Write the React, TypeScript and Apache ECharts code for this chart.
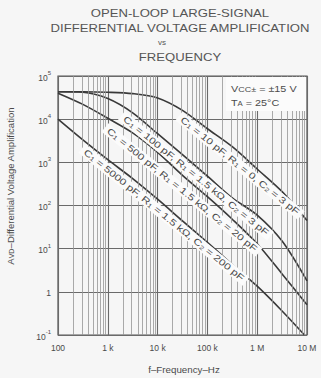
import { useEffect, useRef } from "react";
import * as echarts from "echarts";

// Open-loop gain (V/V) versus frequency (Hz) for each compensation network
const freqC10 = [100, 316, 1000, 3160, 10000, 31600, 100000, 316000, 1000000, 3160000, 10000000];
const gainC10 = [43000, 43000, 42000, 39000, 31000, 16000, 6000, 2300, 700, 210, 45];

const freqC100 = [100, 316, 1000, 3160, 10000, 31600, 100000, 316000, 1000000, 3160000, 10000000];
const gainC100 = [43000, 42000, 30000, 14000, 4600, 1500, 480, 150, 60, 15, 1.8];

const freqC500 = [100, 316, 1000, 3160, 10000, 31600, 100000, 316000, 1000000, 3160000, 10000000];
const gainC500 = [40000, 22000, 10500, 4800, 1700, 500, 160, 48, 13, 2.6, 0.5];

const freqC5000 = [100, 316, 1000, 3160, 10000, 31600, 100000, 316000, 1000000, 3160000, 8900000];
const gainC5000 = [10000, 3300, 1150, 420, 140, 44, 14, 4.3, 1.35, 0.36, 0.1];

const curveNames = ["C1 = 10 pF", "C1 = 100 pF", "C1 = 500 pF", "C1 = 5000 pF"];
const curveLabels = [
  "C{s|1} = 10 pF, R{s|1} = 0, C{s|2} = 3 pF",
  "C{s|1} = 100 pF, R{s|1} = 1.5 kΩ, C{s|2} = 3 pF",
  "C{s|1} = 500 pF, R{s|1} = 1.5 kΩ, C{s|2} = 20 pF",
  "C{s|1} = 5000 pF, R{s|1} = 1.5 kΩ, C{s|2} = 200 pF",
];

// x tick labels for 10^2 .. 10^7 Hz
const xTickLabels = ["100", "1 k", "10 k", "100 k", "1 M", "10 M"];

const titleLines = ["OPEN-LOOP LARGE-SIGNAL", "DIFFERENTIAL VOLTAGE AMPLIFICATION", "vs", "FREQUENCY"];

const BG = "#f6f6f6";
const INK = "#4a4a4a";
const FONT = "Liberation Sans, Arial, sans-serif";

export default function App() {
  const ref = useRef<HTMLDivElement>(null);

  useEffect(() => {
    if (!ref.current) return;
    const chart = echarts.init(ref.current, undefined, { renderer: "svg" });

    const curves = [
      [freqC10, gainC10],
      [freqC100, gainC100],
      [freqC500, gainC500],
      [freqC5000, gainC5000],
    ];

    // Minor vertical grid at 2..9 × each decade
    const minorFreqs: number[] = [];
    for (let d = 2; d < 7; d++) {
      for (let m = 2; m <= 9; m++) minorFreqs.push(m * Math.pow(10, d));
    }

    chart.setOption({
      animation: false,
      backgroundColor: BG,
      grid: {
        left: 58,
        right: 14,
        top: 76,
        bottom: 43,
        show: true,
        borderColor: "#555",
        borderWidth: 1.2,
        backgroundColor: "transparent",
      },
      xAxis: {
        type: "log",
        logBase: 10,
        min: 100,
        max: 10000000,
        axisLine: { show: false },
        axisTick: { show: false },
        splitLine: { show: true, lineStyle: { color: "#6a6a6a", width: 1.1 } },
        axisLabel: {
          color: INK,
          fontFamily: FONT,
          fontSize: 8.5,
          margin: 8,
          formatter: (v: number) => xTickLabels[Math.round(Math.log10(v)) - 2] ?? "",
        },
      },
      yAxis: {
        type: "log",
        logBase: 10,
        min: 0.1,
        max: 100000,
        axisLine: { show: false },
        axisTick: { show: false },
        splitLine: { show: true, lineStyle: { color: "#6a6a6a", width: 1.1 } },
        axisLabel: {
          color: INK,
          fontFamily: FONT,
          margin: 7,
          formatter: (v: number) => {
            const e = Math.round(Math.log10(v));
            return e === 0 ? "{b|1}" : `{b|10}{sup|${e}}`;
          },
          rich: {
            b: { fontSize: 8.5, lineHeight: 12, verticalAlign: "bottom", color: INK, fontFamily: FONT },
            sup: { fontSize: 6, lineHeight: 12, verticalAlign: "top", color: INK, fontFamily: FONT },
          },
        },
      },
      series: [
        {
          type: "line",
          name: "grid",
          data: [[100, 1]],
          showSymbol: false,
          lineStyle: { opacity: 0 },
          silent: true,
          z: 1,
          markLine: {
            silent: true,
            symbol: "none",
            label: { show: false },
            lineStyle: { color: "#959595", width: 0.8, type: "solid" },
            data: minorFreqs.map((f) => ({ xAxis: f })),
          },
        },
        ...curves.map(([fs, gs], i) => ({
          type: "line",
          name: curveNames[i],
          data: fs.map((f, k) => [f, gs[k]]),
          showSymbol: false,
          smooth: 0.3,
          lineStyle: { color: "#3a3a3a", width: 1.6 },
          z: 3,
        })),
      ],
    });

    // Curve labels: centred on a point just below each curve, running along it
    const labelAnchors: [number, number][] = [
      [450000, 830],
      [59000, 485],
      [31000, 230],
      [13400, 60],
    ];
    const angle = (-39 * Math.PI) / 180;
    const labelEls = labelAnchors.map((p, i) => {
      const [px, py] = chart.convertToPixel({ gridIndex: 0 }, p) as number[];
      return {
        type: "text",
        x: px,
        y: py,
        rotation: angle,
        scaleX: 1.3,
        z: 10,
        style: {
          text: curveLabels[i],
          fill: INK,
          fontFamily: FONT,
          fontSize: 9,
          align: "center",
          verticalAlign: "middle",
          backgroundColor: "#fbfbfb",
          padding: [1, 3, 1, 3],
          rich: {
            s: { fontSize: 6, verticalAlign: "bottom", fill: INK, fontFamily: FONT },
          },
        },
      };
    });

    const titleY = [13, 28, 42, 57];
    const titleX = [180, 180, 162, 180];

    chart.setOption({
      graphic: [
        ...titleLines.map((t, i) => ({
          type: "text",
          x: titleX[i],
          y: titleY[i],
          scaleX: i === 2 ? 1 : 1.25,
          style: {
            text: t,
            fill: "#555",
            fontFamily: FONT,
            fontSize: i === 2 ? 8 : 10.5,
            align: "center",
            verticalAlign: "middle",
          },
        })),
        // Test-condition box
        {
          type: "rect",
          shape: { x: 226, y: 77, width: 80, height: 34 },
          style: { fill: "#fbfbfb" },
          z: 10,
        },
        {
          type: "text",
          x: 231,
          y: 89,
          scaleX: 1.2,
          z: 11,
          style: {
            text: "V{s|CC±} = ±15 V",
            fill: INK,
            fontFamily: FONT,
            fontSize: 9,
            verticalAlign: "middle",
            rich: { s: { fontSize: 7.5, fill: INK, fontFamily: FONT, verticalAlign: "bottom" } },
          },
        },
        {
          type: "text",
          x: 231,
          y: 103,
          scaleX: 1.2,
          z: 11,
          style: {
            text: "T{s|A} = 25°C",
            fill: INK,
            fontFamily: FONT,
            fontSize: 9,
            verticalAlign: "middle",
            rich: { s: { fontSize: 6.5, fill: INK, fontFamily: FONT, verticalAlign: "bottom" } },
          },
        },
        // Axis titles
        {
          type: "text",
          x: 10,
          y: 186,
          rotation: Math.PI / 2,
          style: {
            text: "A{s|VD}–Differential Voltage Amplification",
            fill: INK,
            fontFamily: FONT,
            fontSize: 9.5,
            align: "center",
            verticalAlign: "middle",
            rich: { s: { fontSize: 7, fill: INK, fontFamily: FONT, verticalAlign: "bottom" } },
          },
        },
        {
          type: "text",
          x: 184,
          y: 370,
          scaleX: 1.15,
          style: {
            text: "f–Frequency–Hz",
            fill: INK,
            fontFamily: FONT,
            fontSize: 8.5,
            align: "center",
            verticalAlign: "middle",
          },
        },
        ...labelEls,
      ],
    });

    return () => chart.dispose();
  }, []);

  return (
    <div
      ref={ref}
      style={{ position: "absolute", left: 0, top: 0, width: 321, height: 378 }}
    />
  );
}
